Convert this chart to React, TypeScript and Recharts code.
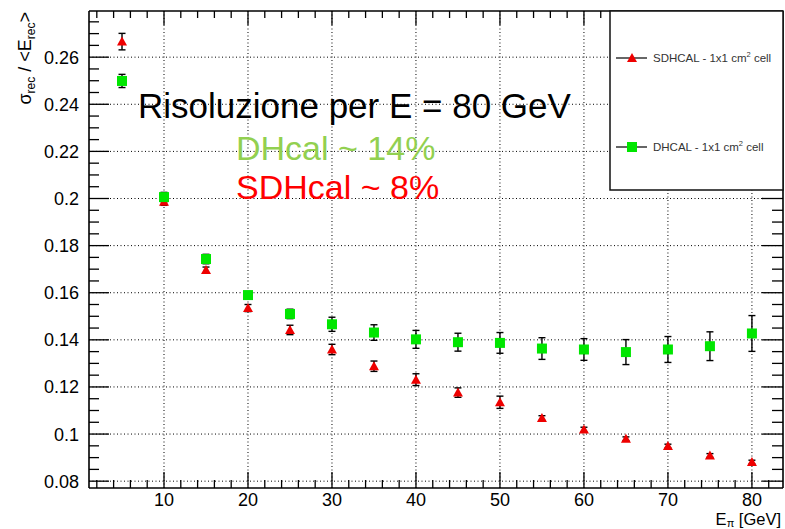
import React from 'react';
import { ScatterChart, Scatter, XAxis, YAxis, ReferenceLine, ErrorBar } from 'recharts';

// ---- data ----
const energies = [5, 10, 15, 20, 25, 30, 35, 40, 45, 50, 55, 60, 65, 70, 75, 80];
const sdhcalRes = [0.2666, 0.1986, 0.1697, 0.1535, 0.1442, 0.1359, 0.1288, 0.1231, 0.1176, 0.1135, 0.1068, 0.1019, 0.098, 0.0949, 0.0909, 0.0881];
const sdhcalErr = [0.0035, 0.0015, 0.0012, 0.0015, 0.002, 0.0022, 0.0022, 0.0025, 0.002, 0.0026, 0.001, 0.001, 0.0008, 0.0008, 0.0008, 0.0008];
const dhcalRes = [0.2499, 0.2006, 0.1743, 0.159, 0.151, 0.1466, 0.1431, 0.1402, 0.139, 0.1387, 0.1363, 0.1359, 0.1348, 0.1359, 0.1373, 0.1427];
const dhcalErr = [0.0028, 0.002, 0.002, 0.0015, 0.002, 0.003, 0.0033, 0.0038, 0.0038, 0.0044, 0.0046, 0.0046, 0.0053, 0.0055, 0.0061, 0.0076];

const xMajorTicks = [10, 20, 30, 40, 50, 60, 70, 80];
const xAllTicks = [2, 4, 6, 8, 10, 12, 14, 16, 18, 20, 22, 24, 26, 28, 30, 32, 34, 36, 38, 40, 42, 44, 46, 48, 50, 52, 54, 56, 58, 60, 62, 64, 66, 68, 70, 72, 74, 76, 78, 80, 82];
const yMajorTicks = [0.08, 0.1, 0.12, 0.14, 0.16, 0.18, 0.2, 0.22, 0.24, 0.26];
const yTickLabels = ['0.08', '0.1', '0.12', '0.14', '0.16', '0.18', '0.2', '0.22', '0.24', '0.26'];
const yAllTicks = [0.08, 0.085, 0.09, 0.095, 0.1, 0.105, 0.11, 0.115, 0.12, 0.125, 0.13, 0.135, 0.14, 0.145, 0.15, 0.155, 0.16, 0.165, 0.17, 0.175, 0.18, 0.185, 0.19, 0.195, 0.2, 0.205, 0.21, 0.215, 0.22, 0.225, 0.23, 0.235, 0.24, 0.245, 0.25, 0.255, 0.26, 0.265, 0.27, 0.275];

const xDomain = [1.07, 83.7];
const yDomain = [0.0771, 0.2796];

const sdhcalData = energies.map((e, i) => ({ x: e, y: sdhcalRes[i], err: sdhcalErr[i] }));
const dhcalData = energies.map((e, i) => ({ x: e, y: dhcalRes[i], err: dhcalErr[i] }));

const FONT = '"Liberation Sans", Arial, Helvetica, sans-serif';
const RED = '#ee0000';
const GREEN = '#00e600';

const near = (a: number, b: number) => Math.abs(a - b) < 1e-6;
const yMajorIndex = (v: number) => yMajorTicks.findIndex((m) => near(m, v));
const isXMajor = (v: number) => xMajorTicks.some((m) => near(m, v));

const LEFT_MARGIN = 10;
const BOTTOM_MARGIN = 5;

const LeftTick = (p: any) => {
  const v = p.payload.value;
  const idx = yMajorIndex(v);
  const ax = p.x + LEFT_MARGIN;
  return (
    <g>
      <line x1={ax} x2={ax + (idx >= 0 ? 20 : 10)} y1={p.y} y2={p.y} stroke="#000" strokeWidth={1.3} />
      {idx >= 0 && (
        <text x={p.x} y={p.y} dy="0.36em" textAnchor="end" fontSize={18} fontFamily={FONT} fill="#000">
          {yTickLabels[idx]}
        </text>
      )}
    </g>
  );
};

const RightTick = (p: any) => {
  const v = p.payload.value;
  const major = yMajorIndex(v) >= 0;
  return <line x1={p.x} x2={p.x - (major ? 21 : 11)} y1={p.y} y2={p.y} stroke="#000" strokeWidth={1.3} />;
};

const BottomTick = (p: any) => {
  const v = p.payload.value;
  const major = isXMajor(v);
  const ay = p.y - BOTTOM_MARGIN;
  return (
    <g>
      <line x1={p.x} x2={p.x} y1={ay} y2={ay - (major ? 16 : 8)} stroke="#000" strokeWidth={1.3} />
      {major && (
        <text x={p.x} y={p.y} dy="0.71em" textAnchor="middle" fontSize={18} fontFamily={FONT} fill="#000">
          {String(v)}
        </text>
      )}
    </g>
  );
};

const TopTick = (p: any) => {
  const v = p.payload.value;
  const major = isXMajor(v);
  return <line x1={p.x} x2={p.x} y1={p.y} y2={p.y + (major ? 14 : 7)} stroke="#000" strokeWidth={1.3} />;
};

const Triangle = (p: any) => {
  const { cx, cy } = p;
  if (cx == null || cy == null) return <g />;
  return <polygon points={`${cx},${cy - 5} ${cx - 5},${cy + 4} ${cx + 5},${cy + 4}`} fill={RED} />;
};

const Square = (p: any) => {
  const { cx, cy } = p;
  if (cx == null || cy == null) return <g />;
  return <rect x={cx - 5} y={cy - 5} width={10} height={10} fill={GREEN} />;
};

const Nothing = () => <g />;

const axisLineStyle = { stroke: '#000', strokeWidth: 1.6 };
const gridStyle = { stroke: '#000', strokeWidth: 1, strokeDasharray: '1 2.5' };

export default function App() {
  return (
    <div style={{ position: 'absolute', left: 0, top: 0, width: 785, height: 529, background: '#fff', fontFamily: FONT }}>
      <ScatterChart width={785} height={529} margin={{ top: 1, right: 0, bottom: 0, left: 0 }}>
        <XAxis
          xAxisId="b"
          type="number"
          dataKey="x"
          orientation="bottom"
          domain={xDomain}
          ticks={xAllTicks}
          interval={0}
          allowDataOverflow
          height={41}
          tickSize={0}
          tickMargin={BOTTOM_MARGIN}
          tickLine={false}
          axisLine={axisLineStyle}
          tick={BottomTick}
        />
        <XAxis
          xAxisId="t"
          type="number"
          dataKey="x"
          orientation="top"
          domain={xDomain}
          ticks={xAllTicks}
          interval={0}
          allowDataOverflow
          height={10}
          tickSize={0}
          tickMargin={0}
          tickLine={false}
          axisLine={axisLineStyle}
          tick={TopTick}
        />
        <YAxis
          yAxisId="l"
          type="number"
          dataKey="y"
          orientation="left"
          domain={yDomain}
          ticks={yAllTicks}
          interval={0}
          allowDataOverflow
          width={89}
          tickSize={0}
          tickMargin={LEFT_MARGIN}
          tickLine={false}
          axisLine={axisLineStyle}
          tick={LeftTick}
        />
        <YAxis
          yAxisId="r"
          type="number"
          dataKey="y"
          orientation="right"
          domain={yDomain}
          ticks={yAllTicks}
          interval={0}
          allowDataOverflow
          width={2}
          tickSize={0}
          tickMargin={0}
          tickLine={false}
          axisLine={axisLineStyle}
          tick={RightTick}
        />
        {yMajorTicks.map((v) => (
          <ReferenceLine key={'gy' + v} y={v} xAxisId="b" yAxisId="l" {...gridStyle} />
        ))}
        {xMajorTicks.map((v) => (
          <ReferenceLine key={'gx' + v} x={v} xAxisId="b" yAxisId="l" {...gridStyle} />
        ))}
        <Scatter xAxisId="t" yAxisId="r" data={dhcalData} shape={Nothing} isAnimationActive={false} legendType="none" />
        <Scatter name="SDHCAL - 1x1 cm2 cell" xAxisId="b" yAxisId="l" data={sdhcalData} shape={Triangle} isAnimationActive={false}>
          <ErrorBar dataKey="err" direction="y" stroke="#000" strokeWidth={1.4} width={3.5} isAnimationActive={false} />
        </Scatter>
        <Scatter name="DHCAL - 1x1 cm2 cell" xAxisId="b" yAxisId="l" data={dhcalData} shape={Square} isAnimationActive={false}>
          <ErrorBar dataKey="err" direction="y" stroke="#000" strokeWidth={1.4} width={3.5} isAnimationActive={false} />
        </Scatter>
      </ScatterChart>

      <svg width={785} height={529} style={{ position: 'absolute', left: 0, top: 0, pointerEvents: 'none' }}>
        {/* legend box */}
        <rect x={610} y={11} width={173} height={179} fill="#fff" stroke="#111" strokeWidth={1.5} />
        <line x1={616} x2={647} y1={58} y2={58} stroke="#000" strokeWidth={1.2} />
        <polygon points="632,53 627,62 637,62" fill={RED} />
        <text x={653} y={62} fontSize={11.5} fontFamily={FONT} fill="#333">
          SDHCAL - 1x1 cm<tspan fontSize={7.5} dy={-5}>2</tspan>
          <tspan dy={5}> cell</tspan>
        </text>
        <line x1={616} x2={647} y1={147} y2={147} stroke="#000" strokeWidth={1.2} />
        <rect x={627} y={142} width={10} height={10} fill={GREEN} />
        <text x={653} y={151} fontSize={11.5} fontFamily={FONT} fill="#333">
          DHCAL - 1x1 cm<tspan fontSize={7.5} dy={-5}>2</tspan>
          <tspan dy={5}> cell</tspan>
        </text>

        {/* annotations */}
        <text x={138} y={118} fontSize={35} fontFamily={FONT} fill="#000">Risoluzione per E = 80 GeV</text>
        <text x={236} y={160} fontSize={34} fontFamily={FONT} fill="#92d050">DHcal ~ 14%</text>
        <text x={236} y={199} fontSize={34} fontFamily={FONT} fill="#ff0000">SDHcal ~ 8%</text>

        {/* axis titles */}
        <text transform="translate(31,12) rotate(-90)" textAnchor="end" fontSize={18} fontFamily={FONT} fill="#000">
          σ<tspan fontSize={12} dy={4}>rec</tspan>
          <tspan dy={-4}> / &lt;E</tspan>
          <tspan fontSize={12} dy={4}>rec</tspan>
          <tspan dy={-4}>&gt;</tspan>
        </text>
        <text x={781} y={524.5} textAnchor="end" fontSize={16.5} fontFamily={FONT} fill="#000">
          E<tspan fontSize={11} dy={2}>π</tspan>
          <tspan dy={-2}> [GeV]</tspan>
        </text>
      </svg>
    </div>
  );
}
